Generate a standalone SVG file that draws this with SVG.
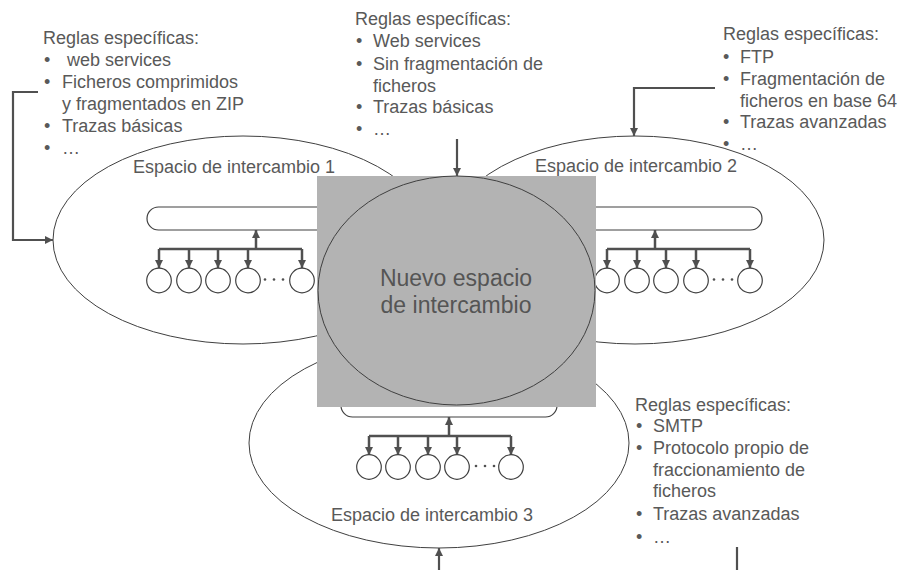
<svg xmlns="http://www.w3.org/2000/svg" width="901" height="570" viewBox="0 0 901 570">
<defs>
<marker id="ah" viewBox="0 0 10 10" refX="10" refY="5" markerWidth="9" markerHeight="8" markerUnits="userSpaceOnUse" orient="auto">
<path d="M0,0 L10,5 L0,10 z" fill="#505050"/>
</marker>
<style>
.t{font-family:"Liberation Sans",Arial,sans-serif;font-size:18px;fill:#595959}
.c{font-family:"Liberation Sans",Arial,sans-serif;font-size:23px;fill:#555555}
.el{fill:none;stroke:#404040;stroke-width:1}
.bus{fill:#ffffff;stroke:#404040;stroke-width:1.2}
.nd{fill:#ffffff;stroke:#404040;stroke-width:1.2}
.tr{fill:none;stroke:#505050;stroke-width:2.5}
.ar{fill:none;stroke:#505050;stroke-width:2.5;marker-end:url(#ah)}
.cn{fill:none;stroke:#505050;stroke-width:2.2}
.dot{fill:#505050}
</style>
</defs>
<rect width="901" height="570" fill="#ffffff"/>

<g id="space1">
<ellipse class="el" cx="243" cy="240" rx="190" ry="104"/>
<text class="t" x="133" y="173">Espacio de intercambio 1</text>
<rect class="bus" x="147" y="207" width="280" height="23" rx="11.5"/>
<g id="space1-nodes">
<path class="tr" d="M159,249 H302"/>
<path class="ar" d="M256,249 V230"/>
<path class="ar" d="M159,249 V268"/>
<path class="ar" d="M189,249 V268"/>
<path class="ar" d="M218,249 V268"/>
<path class="ar" d="M248,249 V268"/>
<path class="ar" d="M302,249 V268"/>
<circle class="nd" cx="159" cy="280.5" r="12.3"/>
<circle class="nd" cx="189" cy="280.5" r="12.3"/>
<circle class="nd" cx="218" cy="280.5" r="12.3"/>
<circle class="nd" cx="248" cy="280.5" r="12.3"/>
<circle class="nd" cx="302" cy="280.5" r="12.3"/>
<circle class="dot" cx="265" cy="279.5" r="1.3"/>
<circle class="dot" cx="274" cy="279.5" r="1.3"/>
<circle class="dot" cx="283" cy="279.5" r="1.3"/>
</g>
</g>

<g id="space2">
<ellipse class="el" cx="635" cy="240" rx="189" ry="104"/>
<text class="t" x="535" y="172">Espacio de intercambio 2</text>
<rect class="bus" x="470" y="207" width="292" height="23" rx="11.5"/>
<g id="space2-nodes">
<path class="tr" d="M607,249 H750"/>
<path class="ar" d="M655,249 V230"/>
<path class="ar" d="M607,249 V268"/>
<path class="ar" d="M637,249 V268"/>
<path class="ar" d="M666,249 V268"/>
<path class="ar" d="M696,249 V268"/>
<path class="ar" d="M750,249 V268"/>
<circle class="nd" cx="607" cy="280.5" r="12.3"/>
<circle class="nd" cx="637" cy="280.5" r="12.3"/>
<circle class="nd" cx="666" cy="280.5" r="12.3"/>
<circle class="nd" cx="696" cy="280.5" r="12.3"/>
<circle class="nd" cx="750" cy="280.5" r="12.3"/>
<circle class="dot" cx="714" cy="279.5" r="1.3"/>
<circle class="dot" cx="723" cy="279.5" r="1.3"/>
<circle class="dot" cx="732" cy="279.5" r="1.3"/>
</g>
</g>

<g id="space3">
<ellipse class="el" cx="439" cy="443" rx="190" ry="105"/>
<text class="t" x="331" y="521">Espacio de intercambio 3</text>
<rect class="bus" x="341" y="394" width="216" height="23" rx="11.5"/>
<g id="space3-nodes">
<path class="tr" d="M369,436 H511"/>
<path class="ar" d="M449,436 V417"/>
<path class="ar" d="M369,436 V455"/>
<path class="ar" d="M398,436 V455"/>
<path class="ar" d="M428,436 V455"/>
<path class="ar" d="M457,436 V455"/>
<path class="ar" d="M511,436 V455"/>
<circle class="nd" cx="369" cy="467" r="12.3"/>
<circle class="nd" cx="398" cy="467" r="12.3"/>
<circle class="nd" cx="428" cy="467" r="12.3"/>
<circle class="nd" cx="457" cy="467" r="12.3"/>
<circle class="nd" cx="511" cy="467" r="12.3"/>
<circle class="dot" cx="476" cy="466" r="1.3"/>
<circle class="dot" cx="485" cy="466" r="1.3"/>
<circle class="dot" cx="494" cy="466" r="1.3"/>
</g>
</g>

<g id="nuevo">
<rect x="317" y="176" width="279" height="231" fill="#b3b3b3"/>
<ellipse cx="456.5" cy="290.5" rx="138.5" ry="114.5" fill="#b3b3b3" stroke="#404040" stroke-width="1"/>
<text class="c" x="456" y="286" text-anchor="middle">Nuevo espacio</text>
<text class="c" x="456" y="313" text-anchor="middle">de intercambio</text>
</g>

<g id="rules1">
<text class="t" x="43" y="44">Reglas específicas:</text>
<text class="t" x="44" y="66">•</text><text class="t" x="62" y="66" xml:space="preserve"> web services</text>
<text class="t" x="44" y="88">•</text><text class="t" x="62" y="88">Ficheros comprimidos</text>
<text class="t" x="62" y="110">y fragmentados en ZIP</text>
<text class="t" x="44" y="132">•</text><text class="t" x="62" y="132">Trazas básicas</text>
<text class="t" x="44" y="154">•</text><text class="t" x="62" y="154">…</text>
</g>

<g id="rules-nuevo">
<text class="t" x="355" y="25">Reglas específicas:</text>
<text class="t" x="356" y="47">•</text><text class="t" x="373" y="47">Web services</text>
<text class="t" x="356" y="70">•</text><text class="t" x="373" y="70">Sin fragmentación de</text>
<text class="t" x="373" y="92">ficheros</text>
<text class="t" x="356" y="113">•</text><text class="t" x="373" y="113">Trazas básicas</text>
<text class="t" x="356" y="135">•</text><text class="t" x="373" y="135">…</text>
</g>

<g id="rules2">
<text class="t" x="723" y="40">Reglas específicas:</text>
<text class="t" x="723" y="63">•</text><text class="t" x="740" y="63">FTP</text>
<text class="t" x="723" y="85">•</text><text class="t" x="740" y="85">Fragmentación de</text>
<text class="t" x="740" y="107">ficheros en base 64</text>
<text class="t" x="723" y="128">•</text><text class="t" x="740" y="128">Trazas avanzadas</text>
<text class="t" x="723" y="150">•</text><text class="t" x="740" y="150">…</text>
</g>

<g id="rules3">
<text class="t" x="635" y="411">Reglas específicas:</text>
<text class="t" x="636" y="432">•</text><text class="t" x="653" y="432">SMTP</text>
<text class="t" x="636" y="454">•</text><text class="t" x="653" y="454">Protocolo propio de</text>
<text class="t" x="653" y="476">fraccionamiento de</text>
<text class="t" x="653" y="497">ficheros</text>
<text class="t" x="636" y="520">•</text><text class="t" x="653" y="520">Trazas avanzadas</text>
<text class="t" x="636" y="543">•</text><text class="t" x="653" y="543">…</text>
</g>

<g id="connectors">
<path class="cn" d="M38,92 H13 V240 H53" marker-end="url(#ah)"/>
<path class="cn" d="M457,139 V176" marker-end="url(#ah)"/>
<path class="cn" d="M715,88 H634 V136" marker-end="url(#ah)"/>
<path class="cn" d="M439,570 V548" marker-end="url(#ah)"/>
<path class="cn" d="M737,547 V570"/>
</g>
</svg>
